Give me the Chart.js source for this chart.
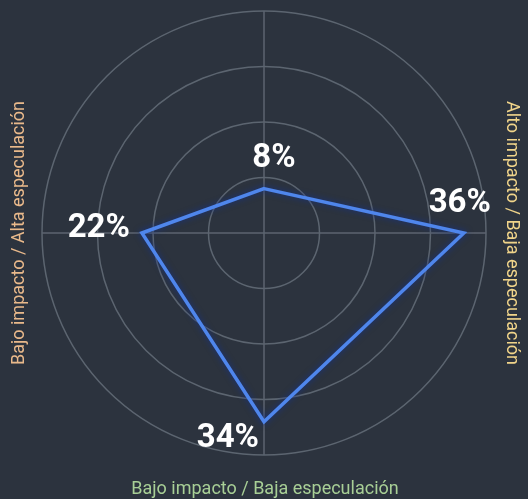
<!DOCTYPE html>
<html>
<head>
<meta charset="utf-8">
<script src="https://cdn.jsdelivr.net/npm/chart.js@4.4.1/dist/chart.umd.min.js"></script>
<style>
  html, body { margin: 0; padding: 0; background: #2c333e; }
  #wrap { position: relative; width: 528px; height: 499px; }
</style>
</head>
<body>
<div id="wrap"><canvas id="radar"></canvas></div>
<script>
// Cuadrantes (arriba, derecha, abajo, izquierda)
const categories = [
  'Alto impacto / Alta especulación',
  'Alto impacto / Baja especulación',
  'Bajo impacto / Baja especulación',
  'Bajo impacto / Alta especulación'
];
const shares = [8, 36, 34, 22];
const ringTicks = [0, 10, 20, 30, 40];

// Colores de los títulos de cada eje
const titleColors = ['#f0d48a', '#f0d48a', '#a8cf96', '#e9b98b'];

// Dónde va cada etiqueta de porcentaje respecto a su punto
const valueLabelAnchor = [
  { dx: 10, dy: -22, align: 'center', base: 'alphabetic' },
  { dx: -4, dy: -21, align: 'center', base: 'alphabetic' },
  { dx: -5, dy: 1, align: 'right', base: 'top' },
  { dx: -12, dy: -4, align: 'right', base: 'middle' }
];

// Dibuja los títulos de los ejes (rotados a los lados, el de abajo horizontal)
const axisTitles = {
  id: 'axisTitles',
  afterDraw(chart) {
    const { ctx } = chart;
    const r = chart.scales.r;
    ctx.save();
    ctx.font = '18px Roboto';
    ctx.textAlign = 'center';
    ctx.textBaseline = 'middle';

    // derecha
    ctx.save();
    ctx.translate(511, r.yCenter);
    ctx.rotate(Math.PI / 2);
    ctx.fillStyle = titleColors[1];
    ctx.fillText(categories[1], 0, 0);
    ctx.restore();

    // abajo
    ctx.fillStyle = titleColors[2];
    ctx.fillText(categories[2], r.xCenter + 1, 489);

    // izquierda
    ctx.save();
    ctx.translate(19, r.yCenter);
    ctx.rotate(-Math.PI / 2);
    ctx.fillStyle = titleColors[3];
    ctx.fillText(categories[3], 0, 0);
    ctx.restore();

    ctx.restore();
  }
};

// Etiquetas de porcentaje en cada vértice
const valueLabels = {
  id: 'valueLabels',
  afterDatasetsDraw(chart) {
    const { ctx } = chart;
    const meta = chart.getDatasetMeta(0);
    ctx.save();
    ctx.font = 'bold 33px Roboto';
    ctx.fillStyle = '#ffffff';
    meta.data.forEach((pt, i) => {
      const a = valueLabelAnchor[i];
      ctx.textAlign = a.align;
      ctx.textBaseline = a.base;
      ctx.fillText(shares[i] + '%', pt.x + a.dx, pt.y + a.dy);
    });
    ctx.restore();
  }
};

// Halo oscuro bajo la línea
const lineGlow = {
  id: 'lineGlow',
  beforeDatasetDraw(chart) {
    const { ctx } = chart;
    ctx.save();
    ctx.shadowColor = 'rgba(20, 50, 140, 0.9)';
    ctx.shadowBlur = 6;
  },
  afterDatasetDraw(chart) {
    chart.ctx.restore();
  }
};

const canvas = document.getElementById('radar');
canvas.width = 528;
canvas.height = 499;

new Chart(canvas, {
  type: 'radar',
  data: {
    labels: categories,
    datasets: [{
      data: shares,
      borderColor: '#4f86ec',
      borderWidth: 3.5,
      backgroundColor: 'rgba(0,0,0,0)',
      fill: false,
      pointRadius: 0,
      tension: 0
    }]
  },
  options: {
    responsive: false,
    animation: false,
    devicePixelRatio: 1,
    layout: { padding: { left: 42, right: 42, top: 11, bottom: 44 } },
    plugins: { legend: { display: false }, tooltip: { enabled: false } },
    scales: {
      r: {
        min: ringTicks[0],
        max: ringTicks[ringTicks.length - 1],
        ticks: { display: false, stepSize: ringTicks[1] - ringTicks[0] },
        grid: { circular: true, color: '#5c6570', lineWidth: 1.5 },
        angleLines: { color: '#5c6570', lineWidth: 1.5 },
        pointLabels: { display: false }
      }
    }
  },
  plugins: [lineGlow, valueLabels, axisTitles]
});
</script>
</body>
</html>
